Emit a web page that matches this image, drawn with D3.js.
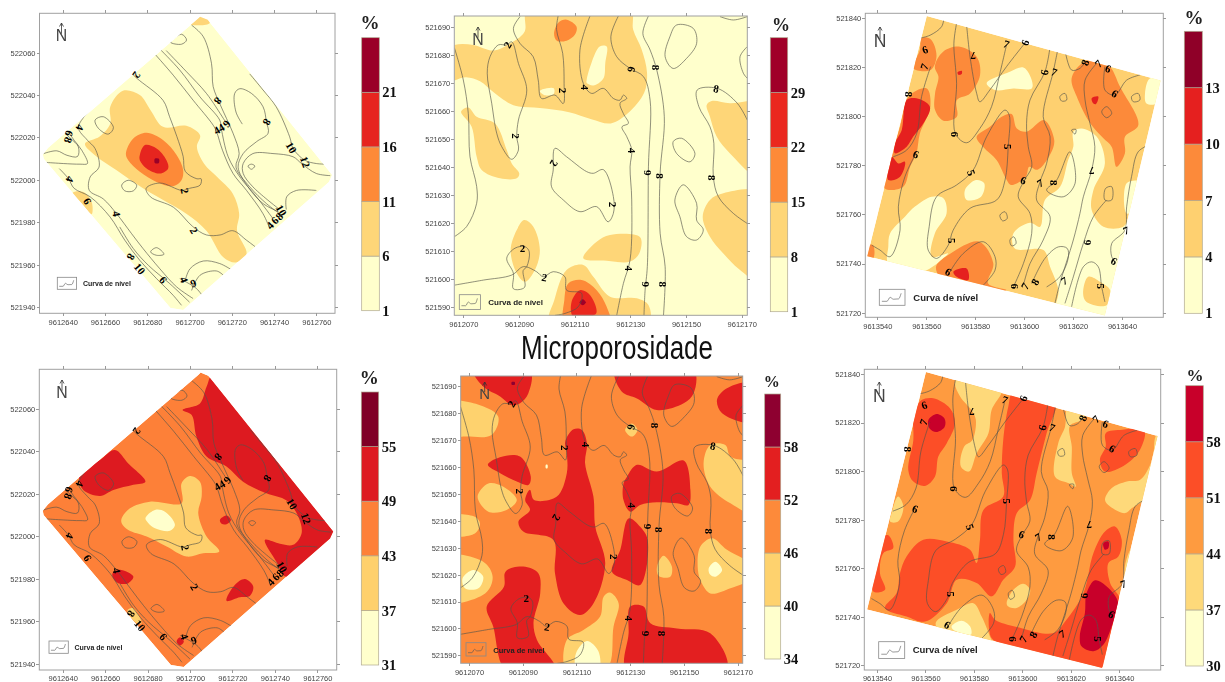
<!DOCTYPE html>
<html>
<head>
<meta charset="utf-8">
<script src="https://d3js.org/d3.v7.min.js"></script>
<style>
  html, body { margin: 0; background: #fff; }
  svg { display: block; filter: blur(0.45px); }
  .tick-label text { font: 7.5px "Liberation Sans", Arial, sans-serif; fill: #444; }
  .axis path, .axis line { stroke: #999; shape-rendering: crispEdges; }
  .legend-axis text { font: bold 14.5px "Liberation Serif", serif; fill: #111; }
  .contour { fill: none; stroke: #55554c; stroke-width: 0.65; }
  .contour-label { font: bold 11px "Liberation Serif", serif; fill: #000; text-anchor: middle; dominant-baseline: central; }
</style>
</head>
<body>
<svg id="chart" width="1225" height="682"></svg>
<script>
// map offsets below are metres from these origins (easting, northing)
const originA = [9612600, 521900];
const originB = [9612000, 521500];
const originC = [9613500, 521700];

// tick labels
const xTicksA = [9612640, 9612660, 9612680, 9612700, 9612720, 9612740, 9612760];
const yTicksA = [522060, 522040, 522020, 522000, 521980, 521960, 521940];
const xTicksB = [9612070, 9612090, 9612110, 9612130, 9612150, 9612170];
const yTicksB = [521690, 521680, 521670, 521660, 521650, 521640, 521630, 521620, 521610, 521600, 521590];
const xTicksC = [9613540, 9613560, 9613580, 9613600, 9613620, 9613640];
const yTicksC = [521840, 521820, 521800, 521780, 521760, 521740, 521720];

// class breaks of each colour bar (%)
const breaks1 = [1, 6, 11, 16, 21, 26];
const breaks2 = [1, 8, 15, 22, 29, 36];
const breaks3 = [1, 4, 7, 10, 13, 16];
const breaks4 = [31, 37, 43, 49, 55, 61];
const breaks5 = [34, 40, 46, 52, 58, 64];
const breaks6 = [30, 37, 44, 51, 58, 65];

const colors1 = ['#ffffcc', '#fed678', '#fd8a38', '#e6251f', '#9a0028'];
const colors2 = ['#ffffcc', '#fed678', '#fd8a38', '#ea281e', '#a00028'];
const colors3 = ['#ffffcc', '#fed070', '#fc8a3a', '#e5201f', '#8f0028'];
const colors4 = ['#ffffcc', '#fed06c', '#fd8038', '#dd1a20', '#800026'];
const colors5 = ['#ffffcc', '#fed26e', '#fd8a3a', '#e31f20', '#8e0030'];
const colors6 = ['#ffffcc', '#fed97a', '#fe9b40', '#fc4e27', '#c8002a'];

// survey outlines
const boundaryA = [[30.6, 112], [33, 115], [104, 176], [105, 177], [108.6, 175.5], [167.5, 102.3], [166, 99], [97, 38.6], [91, 39.5], [31, 110]];
const boundaryB = [[66.85, 193.8], [172, 193.8], [172, 87], [66.85, 87]];
const boundaryC = [[60.2, 140.8], [155.8, 114.5], [133, 18.9], [35.9, 43]];

// elevation contours
const contoursA = [
  [[71, 152], [75, 148], [87.5, 137.5], [90.5, 130], [94, 120.5], [97, 111], [98, 104], [103.5, 100.5], [105.5, 100.5], [105, 97.5], [100, 96], [96.5, 95], [86, 98.5], [79.5, 96], [81.5, 92], [92.5, 87], [101.5, 78], [108, 74], [114.5, 74], [120.5, 76], [127, 71.5], [131, 68.5]],
  [[82.6, 160.5], [92.3, 149.4], [101.7, 137.6], [111.2, 125.8], [112.8, 122.7], [115.6, 114], [120.6, 103], [127, 95], [134.8, 84], [138, 77]],
  [[85.7, 162], [95.4, 151.8], [104.9, 139.2], [114.3, 128.2], [115, 124.3], [118.3, 110.9], [123.8, 101.4], [131.7, 92], [139.5, 81.7]],
  [[89, 161], [98.6, 151], [108, 140.8], [116, 129], [117.5, 126.6]],
  [[101, 173], [106.5, 167.6], [110.4, 155], [111.2, 144], [114.3, 136], [117.5, 129], [120.6, 122], [123.5, 112.4], [122, 106], [128.5, 96.7], [136.4, 88.8], [142.7, 84]],
  [[125, 126.3], [122, 132], [121.4, 140.8], [123.8, 143], [129.3, 140.8], [134.8, 134.5], [136.4, 127.4], [137.2, 122], [131.7, 118], [125.4, 112.4], [123, 106], [127.7, 96.7], [134.8, 88.8], [142, 85]],
  [[128.5, 150], [134.8, 142.4], [141, 134.5], [147.4, 120.3], [149, 114.8], [154.5, 109.3], [160, 107.7], [165.5, 107.4]],
  [[142, 86.5], [130, 96.7], [125.4, 103], [125.4, 107.7], [130, 112.4], [139.5, 112.4], [149, 110.9], [153, 107.7], [160, 103], [166.6, 102]],
  [[145.8, 86], [146, 92], [150.6, 95], [160, 95]],
  [[31, 112.4], [37.2, 113.7], [42, 111.6], [47, 111], [47.4, 115.6], [43.8, 119.5], [41, 122]],
  [[32.4, 108.2], [40.3, 107.7], [48.2, 107.4], [51.7, 107.7], [49, 114], [45.4, 118.7], [42.7, 122.7]],
  [[52, 132], [47.4, 124.7], [51.7, 118.7], [55.3, 114.8], [57.2, 106], [53, 101.4], [52.6, 95], [59.2, 91], [65.5, 84], [72.6, 74.6], [78, 67.6], [86, 58], [93.9, 49.5], [101.7, 44]],
  [[38.4, 105.3], [42.7, 100.6], [45.4, 96], [53, 92], [62.4, 82.5], [69.4, 71.5], [76.5, 62], [84.4, 53.4], [92.3, 45.5], [96.2, 40.8]],
  [[67, 77.8], [73.4, 67.6], [80.5, 59.7], [90.7, 51], [100, 42.3]],
  [[97.8, 51.8], [100.2, 58], [106.5, 61.7], [114.3, 60.5], [119.8, 57.6]],
  [[101, 47.8], [105, 55], [112.8, 57], [116, 55]],
  [[95.4, 53.4], [103.3, 48.7], [106.5, 44.7]]
];
const loopsA = [
  [[91, 165], [96.2, 168.7], [98.6, 166], [96.2, 164]],
  [[55.3, 128.2], [59.2, 129.8], [64, 124.7], [61.6, 121.6], [56.9, 124.3]],
  [[67.9, 97.5], [71, 99.8], [75, 97.5], [73.4, 94.8], [69.4, 94.8]],
  [[81.6, 66], [84.4, 68], [87.9, 64.9], [84.4, 64.4]],
  [[127.7, 106.5], [129.3, 107.4], [130.9, 106.5], [129.3, 105]]
];
const labelsA = [
  ['2', 75, 149.5, 125], ['8', 113.5, 137.3, 130], ['6', 117.8, 126.3, 130], ['4', 112.8, 123.5, -30], ['4', 115, 124.7, -30],
  ['8', 136.7, 127.2, 120], ['10', 148.2, 115.3, 60], ['12', 154.8, 108.5, 70], ['4', 48.2, 124.7, 110], ['6', 43.1, 121.9, 110],
  ['8', 42.7, 118.7, 110], ['4', 43.5, 100.3, 110], ['6', 51.8, 89.9, 60], ['4', 65.5, 84, 80], ['2', 97.8, 94.8, 80],
  ['2', 102.2, 76.2, 60], ['8', 72.4, 63.6, 120], ['10', 76.5, 58.1, 50], ['6', 87.6, 52.9, 50], ['4', 97.5, 52.9, 70],
  ['9', 101.7, 51.3, -20], ['10', 143.5, 85.7, 60], ['8', 142.4, 82.8, -45], ['6', 140.3, 81, -45], ['4', 138, 78.6, -45]
];

const contoursB = [
  [[66.8, 182.5], [70, 171], [71.8, 159], [72.4, 143.6], [74.8, 133], [74.8, 127], [71.2, 118.7], [66.8, 115.1]],
  [[90.4, 193.6], [88, 189.4], [90.4, 184], [95.1, 179.3], [96.9, 171], [98.1, 164.4], [102.9, 165.6], [105.9, 162.6], [106.2, 169.8], [105.7, 180.5], [103.5, 189], [104.1, 194]],
  [[115.5, 193.8], [111.9, 181.7], [113.1, 169.8], [116.1, 166.2], [120.3, 168], [123.9, 164.4], [126.3, 163.8], [127.5, 165.6], [128.7, 164.4], [126.3, 162.7], [127.5, 159], [129.3, 155.5], [127, 154.3], [128.7, 150.8], [130.5, 146], [129.9, 140], [130.5, 128.2], [129.9, 106.8], [127.5, 98.4], [125.1, 87]],
  [[125.7, 193.8], [123, 186.4], [125.1, 179.3], [129.9, 175.1], [134.7, 172.2], [137.1, 163.8], [136.5, 140], [136.1, 104.4], [135.3, 96], [134.9, 87]],
  [[136.5, 193.8], [134.5, 187.6], [137.1, 181.7], [139.5, 174.5], [142.2, 157.9], [140.7, 137.7], [140.7, 116.3], [142.5, 104.4], [141.9, 87]],
  [[172, 156.7], [168.4, 162.7], [161.2, 168], [154, 167.4], [154.6, 161.5], [158.6, 154.3], [160, 148.4], [159.8, 136.5], [161.6, 129.4], [167, 123.4], [172, 119.8]],
  [[172, 182.9], [169.4, 179.3], [170.6, 173.4], [172, 171.6]],
  [[162.2, 193.6], [167, 192.4], [172, 193.6]],
  [[66.8, 97.8], [77.2, 99.6], [87.4, 101.4], [91.6, 104.4], [96.3, 102.6], [98.7, 100.8], [102.3, 102.6], [106.5, 100.8], [107.1, 96], [112.5, 94.9], [111.3, 90.1], [106.5, 87.7], [102.9, 87]]
];
const loopsB = [
  [[85.6, 183.5], [82.6, 183.5], [79.6, 179.3], [78.6, 173.4], [80.2, 162.7], [82, 152], [83.8, 147.2], [87.4, 142.7], [89.8, 146], [89.2, 150.8], [89.8, 156.7], [92.8, 167.4], [89.8, 176.9], [87.4, 184.6]],
  [[146.6, 190.6], [152.6, 189.4], [153.8, 184], [150.2, 178.7], [145.4, 175.1], [142.5, 179.3], [144.2, 186.4]],
  [[145.4, 149], [148.4, 150.2], [153.2, 144.8], [151.4, 141.8], [146.6, 144.8]],
  [[146, 128.2], [149, 133.6], [153.8, 127], [153.8, 121], [156.2, 117.5], [153.8, 113.9], [150.2, 115.1], [147.8, 122.2]],
  [[102.9, 146.6], [107.1, 143.6], [114.3, 138.3], [116.7, 137.7], [120.3, 139], [123.9, 129.4], [123.9, 123.4], [122, 120.4], [117.9, 125.8], [111.9, 124], [105.9, 128.2], [101.7, 132.9], [102.3, 138.9]],
  [[85.6, 107.4], [88.6, 111], [92.2, 111.5], [93.7, 109.7], [92.8, 104.4], [91.5, 103], [92, 97], [88, 96.5], [88, 102]]
];
const labelsB = [
  ['2', 85.8, 183.5, -60], ['2', 88.8, 151, 90], ['2', 102.6, 141.2, 120], ['2', 105.9, 167.2, 90], ['4', 113.7, 168.4, 90],
  ['6', 130.5, 174.8, 100], ['8', 139.1, 175.4, 90], ['8', 160.8, 167.9, 10], ['4', 130.5, 145.8, 90], ['6', 136.1, 137.9, -90],
  ['8', 140.7, 136.7, 90], ['8', 159.2, 136.1, 90], ['2', 123.9, 126.6, 90], ['2', 91.3, 111.2, 0], ['2', 99.1, 100.6, 10],
  ['4', 129.6, 103.8, 90], ['6', 135.4, 98.1, -90], ['8', 141.9, 98.1, 90]
];

const contoursC = [
  [[67.3, 140.5], [66.3, 136.5], [61.6, 133], [57.4, 131.8]],
  [[72.4, 137.8], [71.3, 129.7], [72.4, 113.4], [71.9, 93], [76.5, 89.2], [81.9, 95], [86.7, 103.9], [90.1, 117.5], [92.8, 129]],
  [[76.5, 137.1], [77.9, 124.2], [80.6, 109.3], [81.9, 105.9], [86, 110.7], [92.8, 120.2], [99.7, 129]],
  [[110.6, 128.3], [108.5, 118.1], [102.4, 106.6], [101, 97.1], [101.7, 87.6], [103.1, 79.4], [99.7, 73.3], [97.6, 67.2], [102.4, 60.4], [103.1, 52.3], [99.7, 40], [95.6, 30.5]],
  [[114, 128.3], [111.9, 118.1], [107.8, 99.8], [110.6, 91.7], [109.2, 80.8], [106.5, 73.3], [105.1, 65.9], [110.6, 59.1], [107.8, 49.6], [102.4, 40], [99.7, 31.2]],
  [[116.7, 127], [119.4, 118.8], [122.8, 119.5], [124.9, 122]],
  [[129.6, 121.5], [124.9, 114.7], [124.9, 106.6], [126.9, 97.1], [128.9, 87.6], [127.6, 78.1], [124.2, 67.2], [122.8, 60.4], [120.1, 49.6], [114.6, 31.9], [112.6, 23.8]],
  [[133, 120.2], [133, 110.7], [137.1, 108.6], [141.9, 114.7], [147.3, 116.8]],
  [[61.8, 120.2], [58.1, 108], [56.1, 93], [52, 86.2], [46.5, 83.5]],
  [[55.8, 84.9], [51.3, 75.4], [48.6, 63.1], [49.3, 53.6], [45.2, 42.8], [41.1, 45.5], [37.7, 47.5]],
  [[151.4, 88.5], [146.6, 85.5], [143.9, 75.4], [141.9, 63.1], [141.2, 53.6], [135.8, 48.2], [135.8, 42.8], [137.1, 40.7]],
  [[133.7, 65.9], [128.3, 59.1], [124.2, 48.2], [120.1, 34.6], [116.7, 23.8]],
  [[119.4, 22.4], [124.2, 38.7], [127.6, 40.7], [130.3, 38.7], [131.7, 30.5], [133, 24.4]],
  [[103.1, 31.9], [108.5, 42.1], [114, 46.8], [117.6, 46.2], [118, 42.1], [114.6, 34.6], [109.2, 30.5]],
  [[69.7, 36.7], [75.1, 44.1], [83.3, 48.9], [88.1, 42.8], [88.1, 37.3], [83.3, 31.2]]
];
const loopsC = [
  [[92.2, 102.5], [84.7, 91.7], [79.2, 78.1], [72.4, 72], [64.2, 67.2], [61.2, 55], [60.8, 45.5], [64.2, 42.1], [69, 47.5], [71, 53.6], [77.9, 62.5], [88.8, 65.9], [92.2, 74], [93.5, 87.6], [93.9, 100.5]],
  [[118.7, 85.5], [113.3, 74], [109.2, 69.9], [116, 67.2], [120.8, 72.6]],
  [[133.3, 70.6], [135.8, 71.3], [135.8, 65.9], [133, 65.9]],
  [[114.6, 108], [116.7, 109.3], [117.4, 106.6], [115.3, 106.2]],
  [[143.9, 108], [146.6, 109.3], [147.3, 106.6], [144.6, 105.9]],
  [[131.7, 101.8], [133.7, 103.9], [135.8, 101.2], [133.7, 99.4]],
  [[90.1, 59.7], [92.2, 61.1], [93.1, 58.4], [91.2, 57.4]],
  [[94.2, 49.6], [95.8, 50.9], [96.7, 48.2], [94.9, 47.2]],
  [[119.4, 94.4], [121.2, 94.6], [120.8, 92.7]]
];
const labelsC = [
  ['6', 59.5, 127.2, -20], ['7', 59.2, 120.2, -70], ['8', 52.9, 109, 90], ['7', 79.2, 124.5, 180], ['7', 92.8, 129.4, 20],
  ['6', 100.3, 130, -70], ['6', 108.2, 117.9, -80], ['7', 112.3, 118, 20], ['8', 124.9, 121.9, -70], ['7', 130.3, 121.5, -45],
  ['6', 134.4, 119.5, 20], ['6', 137.1, 109.3, 30], ['6', 71.6, 92.7, 90], ['5', 93.5, 87.6, 90], ['6', 55.8, 84.5, 20],
  ['5', 78.5, 77, 70], ['6', 99.7, 74, 20], ['7', 106.5, 72.9, -30], ['8', 112.3, 72.9, 90], ['7', 127.6, 77.7, 180],
  ['5', 70.4, 49.3, 90], ['6', 69, 36.7, 30], ['6', 96.3, 30.8, 90], ['7', 100.3, 30.8, -60], ['8', 104.4, 32.6, -60],
  ['7', 116.4, 33, -30], ['6', 125.5, 48.6, -90], ['5', 131.4, 30.8, 90], ['6', 136.8, 41.1, 30], ['7', 141.6, 53.6, -20]
];

// class regions: [class index, outline], painted in this order over the base class
const regions1 = [
  [1, [[62.5, 134.5], [68.5, 142], [76.5, 140], [81.5, 133], [87.5, 125], [98.5, 125.5], [105, 121], [103.5, 115.5], [107, 107.5], [113, 101.5], [120.5, 93.5], [123.5, 84], [122.5, 76], [127, 65], [122, 61], [116, 63.5], [108, 76], [98.5, 84], [87.5, 90.5], [78, 96], [65.5, 104.5], [56, 111], [50.5, 117], [57.5, 120.5], [62.5, 126.5]]],
  [1, [[99.4, 173.9], [103.3, 178], [106.5, 178], [109.6, 174], [104.9, 172.9]]],
  [1, [[44.7, 93.9], [49.8, 94.3], [53.7, 89.6], [53.7, 83.8], [49, 88.8]]],
  [2, [[69.9, 112.4], [73.4, 119.5], [79.7, 122.2], [87.6, 118.7], [93.9, 111.7], [97, 104.6], [96.2, 99.8], [92.3, 97], [84.4, 99], [76.5, 103.8], [71, 109.3]]],
  [3, [[76.5, 111.7], [78.9, 116.4], [84.4, 114.8], [89.1, 109.3], [89.9, 105.4], [86, 103], [79.7, 105.4], [76.5, 109.3]]],
  [4, [[83.6, 110], [85.5, 109.9], [85.5, 108], [83.6, 108]]]
];
const regions4 = [
  [1, [[67.8, 108.5], [71.7, 113.2], [81.1, 116.3], [96, 115.6], [96, 124.9], [100, 128.4], [104.7, 125.7], [105.5, 118.7], [103.9, 110.9], [107.8, 99.9], [113.8, 92.9], [106.2, 92.1], [98.4, 90.5], [89, 95.2], [79.6, 99.9], [70.9, 103], [67.8, 106.2]]],
  [1, [[70.5, 65.2], [73, 66.3], [77.2, 59.2], [74.9, 59.2]]],
  [0, [[79, 108.5], [83.5, 112.4], [88.2, 111.6], [92.9, 105.4], [90.6, 102.6], [83.5, 103.8], [80.4, 106.2]]],
  [3, [[96.5, 159.4], [104.7, 162.5], [107.8, 170.3], [111, 176.6], [128.2, 161], [170.6, 103], [167.5, 95.2], [145.5, 81], [140.8, 88], [135.3, 98.3], [142.4, 96.5], [148.6, 96], [152.6, 101.5], [151, 109.3], [145.5, 116.8], [136, 120.2], [125, 125.7], [117.2, 132.8], [107.8, 137.5], [103, 146.9], [100.8, 157]]],
  [3, [[48.2, 129.6], [57.6, 135.9], [64.6, 140.6], [70.9, 134.3], [79, 125.7], [73.3, 124.2], [63.9, 121.8], [57.6, 119], [49.7, 121.8], [47.8, 126.5]]],
  [3, [[63.5, 82.7], [67, 84.3], [73.3, 81.1], [70.9, 78], [66.2, 78], [63.8, 80.3]]],
  [3, [[114.1, 107.7], [117.2, 109.8], [119.3, 107.7], [117.2, 105.7], [114.9, 105.9]]],
  [3, [[117.2, 69.7], [121.2, 77.2], [125.9, 79.9], [129.8, 76.4], [128.2, 72], [123.5, 71.4]]],
  [3, [[93.7, 50.6], [95.3, 52.6], [97.1, 50.6], [95.3, 48.7]]]
];
const regions2 = [
  [1, [[66.8, 183.5], [73.6, 183.5], [80.8, 181.5], [86.8, 184], [92, 188.2], [93, 196], [130, 196], [131, 189], [134, 182], [136, 173.5], [135, 166.5], [129, 159], [123, 155.5], [116, 157], [108, 159.5], [97.5, 161], [88, 162], [81, 166.5], [76, 170.5], [71, 172], [62, 170], [60, 180]]],
  [0, [[114.3, 171], [116, 177], [119, 182.9], [121.5, 182.9], [121, 177], [120.3, 171.5], [116.7, 169], [114.3, 170]]],
  [0, [[97.5, 167], [100, 168], [102.5, 168], [102.5, 166], [99.5, 165.5]]],
  [2, [[102.6, 187.5], [104.2, 191.5], [107.1, 192.5], [110.7, 190], [110, 187], [107.1, 185], [103.6, 185]]],
  [1, [[69.2, 159.7], [71.8, 161.2], [74.8, 157.9], [81.4, 155.5], [85.6, 146], [87.4, 141.2], [90.1, 137.6], [89.2, 135.9], [83.2, 135.9], [76.6, 138.9], [74.8, 143.6], [73, 154.3]]],
  [1, [[157.4, 162], [159.2, 163.5], [165.8, 162.7], [178, 162.7], [178, 135], [165.8, 144.8], [161, 150.8], [158.6, 157.9]]],
  [1, [[156, 122.2], [158.6, 128.2], [163.4, 130.6], [178, 130.6], [178, 98], [169.4, 103.2], [163.4, 109.1], [158.6, 115.1]]],
  [1, [[113.1, 107.4], [117.9, 113.3], [122.7, 115.7], [133.5, 114.9], [133.2, 109.1], [129.9, 106.2], [121.5, 106.5]]],
  [1, [[87, 110.3], [89.2, 117.5], [91.9, 121], [95.1, 118.7], [97.5, 110.3], [95.7, 103.2], [92.2, 99], [89.2, 102]]],
  [1, [[102.7, 92.5], [107.1, 103.2], [113.1, 105], [116.7, 100.8], [122.7, 93.7], [132.3, 93.1], [136.5, 90.7], [136.5, 84], [101, 84]]],
  [2, [[106.3, 92.5], [107.7, 98.4], [112.5, 99.6], [117.9, 96], [121.5, 90.1], [122.7, 84], [106.5, 84]]],
  [3, [[108.9, 91.9], [111.9, 96], [115.5, 94.3], [117.7, 87.7], [109.5, 86.5]]],
  [4, [[111.8, 91.7], [112.9, 92.8], [114, 91.7], [112.9, 90.6]]]
];
const regions5 = [
  [3, [[71.6, 196], [92.7, 196], [92.1, 187.4], [89, 183.7], [85.9, 183], [81.6, 186.2], [75.3, 189.9]]],
  [3, [[124.4, 196], [153.6, 196], [153.6, 187.4], [149.9, 183.7], [139.9, 181.2], [132.5, 185.5], [126.9, 188]]],
  [3, [[175, 191], [166, 189.3], [162.3, 185], [164.2, 180], [175, 176.9]]],
  [3, [[77, 160.8], [81.5, 163.6], [89, 163.9], [93, 156.4], [92.1, 153.3], [87.8, 154.6], [81.6, 157.7]]],
  [3, [[105.8, 169.4], [108.9, 174], [112, 173.8], [113.9, 168.8], [113.2, 161.4], [116.3, 149], [117, 137.8], [120.7, 124.2], [116.3, 109.3], [111.4, 105], [105.2, 109.3], [102, 120.5], [101.4, 132.9], [90.2, 136], [88.4, 139.7], [92.7, 144], [90.9, 147.7], [92.7, 151.5], [94.2, 147.7], [102.7, 149], [106.4, 157.7], [106.4, 165.1]]],
  [3, [[127.5, 153.9], [128.8, 156.4], [132.5, 160.8], [139.9, 158.3], [149.9, 162.4], [152.4, 151.5], [151.7, 145.9], [147.4, 146.5], [139.9, 146.9], [133.7, 145.9], [130, 143.4], [127.5, 147.7]]],
  [3, [[129.4, 140.9], [133.7, 137.8], [136.5, 132.9], [133.7, 116.1], [128.8, 118], [123.2, 121.1], [126.3, 129.2]]],
  [3, [[76.6, 108.1], [83, 115.5], [83.6, 121.1], [90.2, 123], [95.8, 120.5], [96.5, 113], [94, 102], [95.3, 95.7], [102, 85], [84, 84], [79, 100.7]]],
  [3, [[130, 108.1], [135, 108.1], [137.5, 101.9], [147.4, 100], [159.8, 98.2], [166, 85], [128.8, 84], [129.4, 98.2]]],
  [1, [[60, 184], [74.1, 183], [80.9, 178.7], [78.4, 171.9], [69.1, 171.3], [60, 172]]],
  [1, [[128.1, 173.8], [130.6, 176.2], [132.7, 173.8], [130.6, 171.3]]],
  [1, [[157.3, 161.4], [159.8, 168.2], [165.4, 168.2], [167.3, 163.9], [176, 160.8], [176, 142.8], [167.3, 146.5], [159.8, 152.7]]],
  [1, [[73.2, 149], [77.2, 153.9], [82.8, 152.7], [87.8, 147.7], [84, 144], [77.2, 143.4]]],
  [1, [[60, 141.5], [72.2, 141.5], [74.1, 139], [72.2, 135.3], [60, 135]]],
  [1, [[60, 126.7], [75.3, 124.8], [78.8, 119.2], [76, 113], [60, 109.9]]],
  [1, [[140, 123], [142.4, 127], [145.5, 123], [144.9, 119.2], [140.6, 119.5]]],
  [1, [[155.1, 123], [156.1, 130.4], [160.4, 133.5], [166, 129.2], [176, 123], [176, 119.2], [167.3, 114.9], [159.8, 113], [156.1, 118]]],
  [1, [[106.4, 95.7], [112.6, 99.4], [118.8, 104.4], [120.1, 111.8], [122.5, 113.3], [125.7, 109.3], [123.8, 100.7], [121.3, 85], [106.4, 84]]],
  [0, [[98.6, 160.8], [99.2, 160.8], [99.2, 159.5], [98.6, 159.5]]],
  [0, [[67.6, 118.6], [71.6, 121.7], [75.3, 119.2], [73.5, 114.9], [68.5, 114.9]]],
  [0, [[159.2, 122.3], [161.7, 124.8], [164.2, 121.7], [161.7, 119.2], [159.8, 119.9]]],
  [0, [[109.8, 90.7], [113.9, 95.3], [118.2, 91.4], [118.2, 85], [110.1, 85]]],
  [4, [[85.9, 191.6], [87, 191.6], [87, 190.6], [85.9, 190.6]]]
];
const regions3 = [
  [0, [[84.7, 113.4], [94.2, 118.1], [99.7, 119.8], [103.1, 114.8], [103.1, 111.3], [95.6, 111.3], [88.1, 110.7]]],
  [0, [[151.4, 115.4], [157, 114.8], [154.2, 105.2], [150, 105.2], [149.4, 109.3]]],
  [0, [[120.1, 93.7], [123.5, 95], [129.6, 91.7], [133, 80.8], [128.3, 69.9], [127.6, 61.8], [132.4, 55], [140.5, 55], [143.2, 59.1], [141.2, 46.9], [137.8, 34.6], [133.7, 16], [113.3, 20], [114, 29.2], [110.6, 38.7], [107.9, 45.5], [96.2, 46.1], [95.6, 52.3], [102.4, 56.6], [106.5, 55], [108.5, 65.9], [114.7, 71.3], [118, 82.2], [120.1, 87.6]]],
  [0, [[141.9, 72.7], [147.3, 73.3], [145.2, 61.8], [141.9, 60.4]]],
  [0, [[45.2, 52.3], [51.3, 59.1], [55.4, 63.2], [62.2, 67.2], [67, 66.6], [68.3, 60.4], [63.5, 52.3], [62.2, 42.8], [69, 44.2], [56.7, 36], [44.5, 40], [44.5, 46.9]]],
  [0, [[75.8, 69.9], [80.3, 74], [83.7, 72.7], [82.4, 67.2], [76.5, 65.9]]],
  [1, [[124.1, 27.8], [126.2, 34.6], [131, 32.6], [135.1, 29.2], [133.7, 23], [125.5, 24.4]]],
  [2, [[63.5, 120.2], [66.9, 126.3], [73.8, 128.3], [80.6, 124.2], [82, 116.8], [77.9, 109.3], [72.5, 106.6], [72.5, 99.8], [67, 98.2], [63.6, 102.5], [63.6, 109.3], [65, 116.1]]],
  [2, [[54.7, 119.5], [57.4, 127], [58.1, 131.8], [61.7, 131.4], [64.2, 124.6], [61.8, 118.8]]],
  [2, [[52.7, 107.9], [60.2, 111.3], [61.7, 103.9], [57.4, 93], [56, 84.9], [53.4, 79.4], [50.6, 71.3], [43.1, 70.6], [45.2, 82.1], [49.3, 95.7]]],
  [2, [[80.6, 91.6], [86, 95.7], [90.8, 99.8], [94.9, 100.9], [97, 95], [101, 93.7], [108.2, 98.4], [112.3, 90.3], [110.9, 84.9], [105.5, 78.2], [102.1, 79.4], [100.7, 75.4], [94.6, 72], [92.9, 74], [88.8, 82.1], [83.3, 87.5]]],
  [2, [[119.4, 115.4], [123.5, 121.5], [129.6, 123.6], [135.1, 120.2], [139.2, 112], [146.7, 96.4], [141.2, 91.6], [141.2, 84.9], [137.8, 79.4], [135.8, 87.5], [132.4, 91], [127, 97.1], [121.5, 108]]],
  [2, [[64, 38.7], [70.1, 44.2], [81.7, 48.9], [87.4, 40], [85.3, 31.9], [92.8, 29.2], [80.6, 28], [67, 33]]],
  [2, [[36.3, 47.5], [38.3, 47.5], [38.3, 42], [35, 42]]],
  [3, [[50, 94.4], [52, 106.6], [56, 107.3], [61.5, 103.9], [58.8, 97], [54.7, 91.7], [52, 87.6], [47.2, 84.9], [47.2, 88.9]]],
  [3, [[45.9, 83.5], [48.6, 80.8], [51.3, 81.5], [49.3, 75.4], [44.5, 74], [44.5, 79.4]]],
  [3, [[71.1, 36.7], [76.5, 38], [77.2, 33.3], [72.4, 34.6]]],
  [3, [[72.8, 117.9], [74.5, 118.5], [74.5, 117.2], [73.1, 116.9]]],
  [3, [[127.6, 107.3], [130.3, 108], [129.4, 105], [128.3, 105.2]]]
];
const regions6 = [
  [1, [[74.9, 141], [81.1, 138], [91.5, 133.7], [87.3, 125.2], [86, 115.6], [81.1, 107.3], [78, 99.8], [74.6, 101.9], [76, 110.1], [79.4, 112.8], [80.8, 121], [79.4, 124.5], [74.3, 130.7], [72.2, 136.2]]],
  [1, [[119, 127.3], [126.5, 124.5], [124.5, 121], [119.6, 118.6], [120.4, 110], [120.4, 99.1], [122, 93.6], [119.2, 95], [113.5, 97.7], [114.8, 111.5], [117.6, 118.3]]],
  [1, [[134.1, 88.1], [136.9, 93], [143.1, 95.7], [148.6, 96.4], [152.7, 102.5], [154.1, 107.3], [155.4, 114.9], [160, 115], [158, 99], [152, 92.3], [149.9, 88], [145.1, 84.7], [142.4, 82.7], [136.2, 85.4]]],
  [1, [[46, 82.7], [48.7, 89.5], [50.9, 85.4], [48.7, 79.2], [45.4, 79.2]]],
  [1, [[93.5, 45.6], [96.3, 51.1], [100.4, 53.6], [103.2, 51.1], [101.8, 47], [97.6, 43.6], [94.2, 44.2]]],
  [1, [[64.2, 37.4], [72.9, 42.9], [79.8, 45.6], [83.2, 40.1], [86.6, 31.9], [88, 28], [70, 30]]],
  [1, [[142.3, 60.7], [145, 68.2], [147.1, 68.9], [144.4, 59.3], [142.3, 53.8]]],
  [0, [[70.8, 36.1], [74.9, 38.4], [78.4, 36.1], [78.8, 32.7], [71.5, 34.6]]],
  [3, [[58.4, 129.3], [63.2, 130], [70.1, 125.9], [72.2, 119.7], [68.8, 111.5], [65.3, 106], [63.9, 97.7], [59.8, 93.9], [55, 95.7], [52.9, 100.5], [55, 112.8], [55, 122.4], [56.4, 126.6]]],
  [3, [[96.3, 132.7], [113.5, 128.6], [110, 115.6], [105.9, 99.1], [103.2, 88.1], [97.7, 82.7], [96.3, 71.7], [97, 60.7], [92.1, 55.2], [87.3, 48.4], [81.1, 53.9], [72.9, 55.2], [68.8, 45.6], [59.8, 38], [52.2, 40.1], [43.3, 43.6], [48.1, 49.8], [49.5, 58], [52.2, 64.8], [59.1, 71.7], [68.8, 71], [78.4, 67.6], [81.1, 62.1], [82.5, 71.7], [83.9, 84], [92.1, 89.5], [91.5, 99.1], [92.1, 112.8], [94.2, 126.6]]],
  [3, [[134.4, 115.6], [141.3, 117], [150.3, 117], [148.5, 108.7], [141.7, 102.1], [134.1, 99.8], [132, 104.6], [134.4, 110.1]]],
  [3, [[42.6, 73], [44.7, 73.6], [46.7, 68.3], [42.6, 66.2], [41.2, 58], [43.3, 51.1], [38.5, 50.4], [39.9, 64.8]]],
  [3, [[86.6, 41.5], [88.7, 38.8], [97.7, 35.8], [112.8, 33.3], [118.2, 38.8], [125.2, 49.8], [129.3, 66.2], [134.1, 75.1], [138.2, 77.2], [141, 71.7], [139.6, 64.8], [135.5, 62.1], [136.2, 53.9], [140.3, 47], [136.9, 34.6], [132.7, 18.9], [121, 20.2], [94.9, 27.8], [87.3, 31.2]]],
  [4, [[61.2, 121], [64.6, 123.5], [67.9, 121.6], [67.9, 118.2], [64.5, 116.1], [61.7, 117.5]]],
  [4, [[126.5, 49.8], [130, 55], [134.8, 52.5], [139.6, 45.7], [136.9, 36.1], [133.4, 28.5], [129.3, 25.8], [124.4, 27.8], [123.7, 31.9], [125.8, 41.5]]],
  [4, [[133.4, 70.3], [135.5, 71], [135.5, 68.3], [134.1, 67.6]]]
];

const keySquiggle = [[0.1, 0.75], [0.3, 0.75], [0.42, 0.5], [0.55, 0.62], [0.75, 0.6], [0.85, 0.25]];

// page layout of the six maps
const panels = [
  { id: 'p1', frame: [39.5, 13.3, 335, 313.3], xRange: [62.7, 316.3], yRange: [52.7, 307], xTicks: xTicksA, yTicks: yTicksA, origin: originA,
    boundary: boundaryA, contours: contoursA, loops: loopsA, labels: labelsA, regions: regions1, base: 0, breaks: breaks1, colors: colors1,
    bar: [361.7, 379.3, 310.7, 37.7], pct: [370, 29, 19], north: [61.5, 23, 18], key: [57.3, 277.3, 19.3, 12, 83, 285.7, 7] },
  { id: 'p2', frame: [454.3, 16, 747.3, 315.3], xRange: [463.3, 741.7], yRange: [26.7, 307], xTicks: xTicksB, yTicks: yTicksB, origin: originB,
    boundary: boundaryB, contours: contoursB, loops: loopsB, labels: labelsB, regions: regions2, base: 0, breaks: breaks2, colors: colors2,
    bar: [770.3, 787.7, 311.7, 37.7], pct: [781, 31, 18], north: [478, 27, 18], key: [459.3, 294.7, 21.3, 14.7, 488.3, 304.7, 8] },
  { id: 'p3', frame: [865.3, 13.3, 1163.3, 317.3], xRange: [877.3, 1122], yRange: [18, 312.7], xTicks: xTicksC, yTicks: yTicksC, origin: originC,
    boundary: boundaryC, contours: contoursC, loops: loopsC, labels: labelsC, regions: regions3, base: 1, breaks: breaks3, colors: colors3,
    bar: [1184.3, 1202.3, 313.3, 31.3], pct: [1194, 24, 19], north: [880, 27, 20], key: [879.3, 289.3, 25.7, 16, 913.3, 301.3, 9.5] },
  { id: 'p4', frame: [39.3, 369.3, 336.7, 670], xRange: [62.7, 317.3], yRange: [408.7, 664], xTicks: xTicksA, yTicks: yTicksA, origin: originA,
    boundary: boundaryA, contours: contoursA, loops: loopsA, labels: labelsA, regions: regions4, base: 2, breaks: breaks4, colors: colors4,
    bar: [361.3, 378.7, 665, 392], pct: [369.3, 384, 19], north: [62, 380, 18], key: [49, 641, 19.3, 12.3, 74.5, 650, 7] },
  { id: 'p5', frame: [460.7, 376, 742.7, 663.3], xRange: [469, 737.7], yRange: [386.3, 655.3], xTicks: xTicksB, yTicks: yTicksB, origin: originB,
    boundary: boundaryB, contours: contoursB, loops: loopsB, labels: labelsB, regions: regions5, base: 2, breaks: breaks5, colors: colors5,
    bar: [764.7, 780.7, 659, 394], pct: [771.7, 387, 16], north: [484.7, 382, 17], key: [466, 642.7, 20, 13.3, 493.3, 652.7, 7.5] },
  { id: 'p6', frame: [864.3, 369.3, 1160.7, 670], xRange: [877, 1119.3], yRange: [374, 665.3], xTicks: xTicksC, yTicks: yTicksC, origin: originC,
    boundary: boundaryC, contours: contoursC, loops: loopsC, labels: labelsC, regions: regions6, base: 2, breaks: breaks6, colors: colors6,
    bar: [1185.7, 1203.3, 666, 385.7], pct: [1195, 381, 17], north: [879.3, 382, 20], key: [878.7, 641.7, 26, 16.7, 912.7, 653.3, 9.5] }
];

const svg = d3.select('#chart');
const defs = svg.append('defs');

panels.forEach(p => {
  const [fl, ft, fr, fb] = p.frame;
  const x = d3.scaleLinear().domain(d3.extent(p.xTicks)).range(p.xRange);
  const y = d3.scaleLinear().domain([d3.max(p.yTicks), d3.min(p.yTicks)]).range(p.yRange);
  const px = d => x(p.origin[0] + d[0]);
  const py = d => y(p.origin[1] + d[1]);

  const openLine = d3.line().x(px).y(py).curve(d3.curveCatmullRom.alpha(0.5));
  const closedLine = d3.line().x(px).y(py).curve(d3.curveCatmullRomClosed.alpha(0.5));
  const outline = d3.line().x(px).y(py).curve(d3.curveLinearClosed);

  const g = svg.append('g').attr('id', p.id);

  g.append('rect')
    .attr('x', fl).attr('y', ft)
    .attr('width', fr - fl).attr('height', fb - ft)
    .attr('fill', '#fff');

  defs.append('clipPath').attr('id', `clip-${p.id}`)
    .append('path').attr('d', outline(p.boundary));

  const map = g.append('g').attr('clip-path', `url(#clip-${p.id})`);

  map.append('path')
    .attr('d', outline(p.boundary))
    .attr('fill', p.colors[p.base]);

  map.selectAll('path.region')
    .data(p.regions)
    .enter().append('path')
    .attr('class', 'region')
    .attr('d', d => closedLine(d[1]))
    .attr('fill', d => p.colors[d[0]]);

  map.selectAll('path.contour-open')
    .data(p.contours)
    .enter().append('path')
    .attr('class', 'contour contour-open')
    .attr('d', openLine);

  map.selectAll('path.contour-loop')
    .data(p.loops)
    .enter().append('path')
    .attr('class', 'contour contour-loop')
    .attr('d', closedLine);

  g.selectAll('text.contour-label')
    .data(p.labels)
    .enter().append('text')
    .attr('class', 'contour-label')
    .attr('transform', d => `translate(${x(p.origin[0] + d[1])}, ${y(p.origin[1] + d[2])}) rotate(${d[3]})`)
    .text(d => d[0]);

  // Frame
  g.append('rect')
    .attr('x', fl).attr('y', ft)
    .attr('width', fr - fl).attr('height', fb - ft)
    .attr('fill', 'none')
    .attr('stroke', '#a0a0a0');

  // Axes
  const fmt = d3.format('d');
  g.append('g').attr('class', 'axis tick-label')
    .attr('transform', `translate(0, ${fb})`)
    .call(d3.axisBottom(x).tickValues(p.xTicks).tickFormat(fmt).tickSize(3).tickSizeOuter(0).tickPadding(3));
  g.append('g').attr('class', 'axis tick-label')
    .attr('transform', `translate(${fl}, 0)`)
    .call(d3.axisLeft(y).tickValues(p.yTicks).tickFormat(fmt).tickSize(3).tickSizeOuter(0).tickPadding(1));
  g.append('g').attr('class', 'axis')
    .attr('transform', `translate(0, ${ft})`)
    .call(d3.axisTop(x).tickValues(p.xTicks).tickFormat('').tickSize(3).tickSizeOuter(0));
  g.append('g').attr('class', 'axis')
    .attr('transform', `translate(${fr}, 0)`)
    .call(d3.axisRight(y).tickValues(p.yTicks).tickFormat('').tickSize(3).tickSizeOuter(0));
  g.selectAll('.axis .domain').remove();

  // North arrow
  const [nx, ny, nh] = p.north;
  const north = g.append('g').attr('transform', `translate(${nx}, ${ny})`);
  north.append('path')
    .attr('d', `M0,${nh * 0.6} V0 M-2,3.5 L0,0 L2,3.5`)
    .attr('fill', 'none').attr('stroke', '#333').attr('stroke-width', 0.8);
  north.append('text')
    .attr('x', 0).attr('y', nh)
    .attr('text-anchor', 'middle')
    .attr('fill', '#444')
    .style('font', `${nh * 0.88}px "Liberation Sans", sans-serif`)
    .text('N');

  // Contour key
  const [kx, ky, kw, kh, tx, ty, ts] = p.key;
  g.append('rect')
    .attr('x', kx).attr('y', ky).attr('width', kw).attr('height', kh)
    .attr('fill', 'none').attr('stroke', '#888').attr('stroke-width', 0.8);
  g.append('path')
    .attr('d', d3.line().x(d => kx + d[0] * kw).y(d => ky + d[1] * kh).curve(d3.curveMonotoneX)(keySquiggle))
    .attr('fill', 'none').attr('stroke', '#555').attr('stroke-width', 0.6);
  g.append('text')
    .attr('x', tx).attr('y', ty)
    .attr('fill', '#222')
    .style('font', `bold ${ts}px "Liberation Sans", sans-serif`)
    .text('Curva de nível');

  // Colour bar
  const [bl, br, bb, bt] = p.bar;
  const scaleBar = d3.scaleLinear().domain(d3.extent(p.breaks)).range([bb, bt]);
  g.selectAll('rect.swatch')
    .data(p.colors)
    .enter().append('rect')
    .attr('class', 'swatch')
    .attr('x', bl)
    .attr('width', br - bl)
    .attr('y', (d, i) => scaleBar(p.breaks[i + 1]))
    .attr('height', (d, i) => scaleBar(p.breaks[i]) - scaleBar(p.breaks[i + 1]))
    .attr('fill', d => d)
    .attr('stroke', '#b0a890')
    .attr('stroke-width', 0.7);
  const legendAxis = g.append('g').attr('class', 'legend-axis')
    .attr('transform', `translate(${br}, 0)`)
    .call(d3.axisRight(scaleBar).tickValues(p.breaks.slice(0, -1)).tickFormat(fmt).tickSize(0).tickPadding(3));
  legendAxis.select('.domain').remove();

  g.append('text')
    .attr('x', p.pct[0]).attr('y', p.pct[1])
    .attr('text-anchor', 'middle')
    .attr('fill', '#222')
    .style('font', `bold ${p.pct[2]}px "Liberation Serif", serif`)
    .text('%');
});

svg.append('text')
  .attr('x', 521).attr('y', 359)
  .attr('textLength', 192)
  .attr('lengthAdjust', 'spacingAndGlyphs')
  .attr('fill', '#111')
  .style('font', '33px "Liberation Sans Narrow", "Liberation Sans", sans-serif')
  .text('Microporosidade');
</script>
</body>
</html>
